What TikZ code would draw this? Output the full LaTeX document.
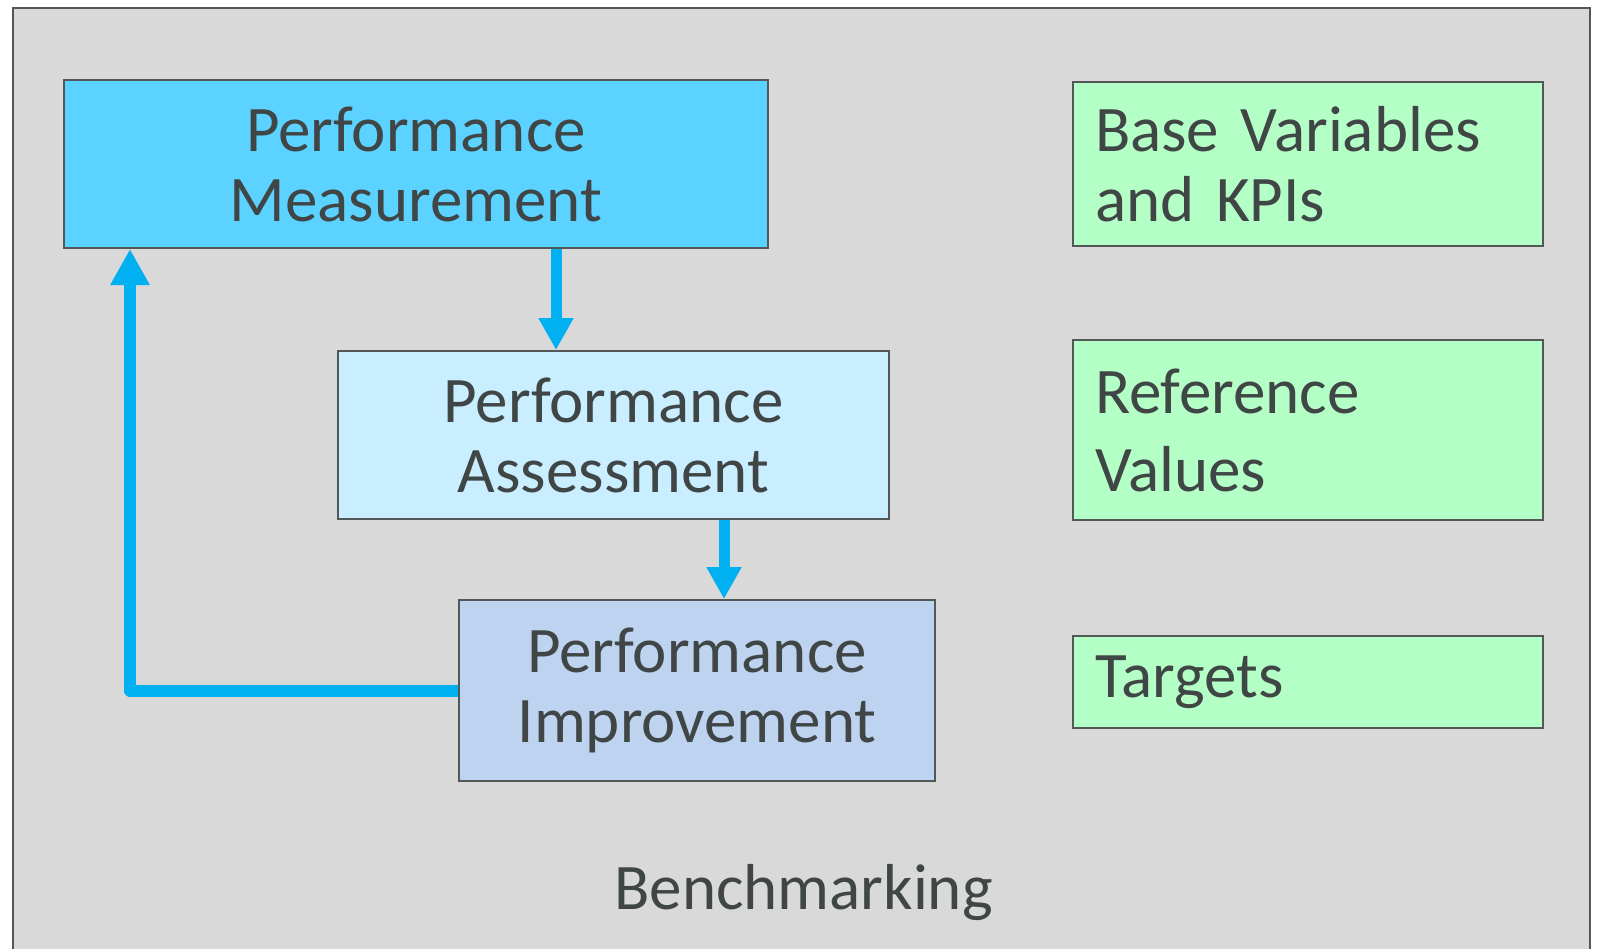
\documentclass[tikz,border=0pt]{standalone}
\usepackage{fontspec}
\setmainfont{Carlito}
\usepackage{tikz}
\usetikzlibrary{arrows.meta}

\definecolor{framegray}{RGB}{217,217,217}
\definecolor{linegray}{RGB}{82,88,88}
\definecolor{textgray}{RGB}{64,70,70}
\definecolor{measblue}{RGB}{91,210,255}
\definecolor{assesblue}{RGB}{200,238,255}
\definecolor{imprblue}{RGB}{189,211,239}
\definecolor{valgreen}{RGB}{179,255,198}
\definecolor{arrowblue}{RGB}{0,176,240}

\tikzset{
	box/.style={rectangle,draw=linegray,line width=2pt,text=textgray,
		font=\fontsize{65}{70}\selectfont,align=center,inner sep=0pt},
	valbox/.style={box,fill=valgreen,minimum width=470pt,text width=426pt,align=left},
	flow/.style={draw=arrowblue,line width=11pt,line join=round,
		-{Triangle[width=33pt,length=32pt]}}
}

\begin{document}
\begin{tikzpicture}[x=1pt,y=1pt]
	\useasboundingbox (0,0) rectangle (1597,-948);
	\fill[white] (0,0) rectangle (1597,-948);
	\draw[fill=framegray,draw=linegray,line width=2.5pt] (13,-960) -- (13,-8) -- (1590,-8) -- (1590,-960);
	
	\begin{scope}[every node/.style={box,minimum height=168pt}]
		\node[fill=measblue,minimum width=704pt] (PM) at (416,-164) {Performance\\Measurement};
		\node[fill=assesblue,minimum width=551pt] (PA) at (613.5,-435) {Performance\\Assessment};
		\node[fill=imprblue,minimum width=476pt,minimum height=181pt] (PI) at (697,-690.5) {Performance\\Improvement};
	\end{scope}
	
	\node[valbox,minimum height=164pt] (BV) at (1308,-164) {Base Variables\\and KPIs};
	\node[valbox,minimum height=180pt] (RV) at (1308,-430) {Reference\\[8pt]Values};
	\node[valbox,minimum height=92pt] (T) at (1308,-682) {Targets};
	
	\node[text=textgray,font=\fontsize{65}{70}\selectfont,anchor=base] (B) at (803.5,-909) {Benchmarking};
	
	\coordinate (a1) at (556,0);
	\coordinate (a2) at (724,0);
	\coordinate (a3) at (130,0);
	\draw[flow] (PM.south -| a1) -- (PA.north -| a1);
	\draw[flow] (PA.south -| a2) -- (PI.north -| a2);
	\draw[flow,line width=12pt,-{Triangle[width=37pt,length=36pt]}] (PI.west) -- (PI.west -| a3) -- (PM.south -| a3);
\end{tikzpicture}
\end{document}
